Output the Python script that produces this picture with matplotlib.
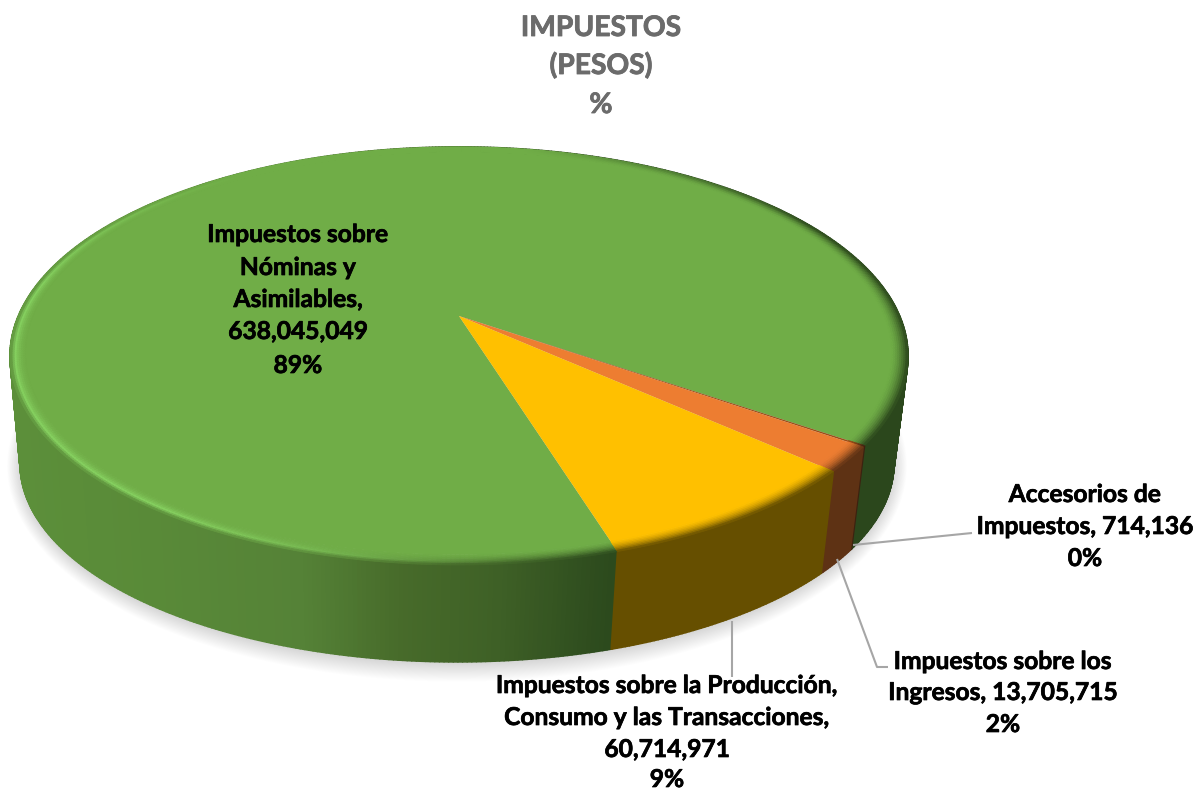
import numpy as np
import matplotlib
matplotlib.use('Agg')
import matplotlib.pyplot as plt
import matplotlib.patheffects as pe
from matplotlib.collections import PolyCollection
from matplotlib.colors import to_rgb

plt.rcParams['font.family'] = ['Lato', 'DejaVu Sans']

# slices, clockwise from the green / yellow edge
names = ['Nominas', 'Accesorios', 'Ingresos', 'Produccion']
values = [638045049, 714136, 13705715, 60714971]
percents = ['89%', '0%', '2%', '9%']
face_colors = ['#70ad47', '#9c4f18', '#ed7d31', '#ffc000']
side_colors = [None, '#3c2210', '#5e3214', '#664f00']

title_lines = ['IMPUESTOS', '(PESOS)', '%']
label_lines = [
    ['Impuestos sobre', 'Nóminas y', 'Asimilables,', f'{values[0]:,}', percents[0]],
    ['Accesorios de', f'Impuestos, {values[1]:,}', percents[1]],
    ['Impuestos sobre los', f'Ingresos, {values[2]:,}', percents[2]],
    ['Impuestos sobre la Producción,', 'Consumo y las Transacciones,', f'{values[3]:,}', percents[3]],
]

# perspective of the disc, in pixels
CX, CY, A, B, K = 459, 316, 440.7, 201.4, -0.191
START = 72.9
R0 = 0.965


def project(theta, r=1.0):
    t = np.radians(theta)
    u, v = r * np.cos(t), r * np.sin(t)
    w = 1 + K * v
    return CX + A * u / w, CY + B * v / w


def bottom(x, y):
    return 457 + (x - 459) * 0.973, 464 + (y - 356) * 0.947


def mix(a, b, t):
    return tuple(a[i] + (b[i] - a[i]) * t for i in range(3))


def green_side(x):
    xs = [15, 150, 300, 400, 500, 610, 900]
    cs = np.array([to_rgb(c) for c in ['#5c8f3a', '#598a38', '#558237', '#476b2a',
                                       '#3e6026', '#2c4a1d', '#2b471c']])
    return tuple(np.interp(x, xs, cs[:, i]) for i in range(3))


def rim_color(theta, t, face, side):
    th = theta % 360
    hl = np.interp(th, [85, 125, 190, 235], [0, 1, 1, 0])
    dark = np.interp(th, [0, 90, 130, 280, 330, 360], [1, 1, 0, 0, 1, 1])
    light = to_rgb('#86d160')
    c = mix(face, side, dark * t ** 1.6)
    if hl > 0:
        if t < 0.7:
            peak = mix(face, light, (t / 0.7) ** 2)
        else:
            peak = mix(light, side, (t - 0.7) / 0.3)
        c = mix(c, peak, hl)
    return c


fig = plt.figure(figsize=(11.98, 7.91), dpi=100)
ax = fig.add_axes([0, 0, 1, 1])
ax.set_xlim(0, 1198)
ax.set_ylim(791, 0)
ax.axis('off')

# soft shadow under the disc
ring = np.arange(0, 360, 1.0)
px, py = bottom(*project(ring))
for s, sy in zip(np.linspace(1.03, 1.0, 20), np.linspace(1.09, 1.0, 20)):
    ax.fill(457 + (px - 457) * s, 466 + (py - 464) * sy, color='k', alpha=0.007, lw=0)

edges = START + np.cumsum([0] + values) / sum(values) * 360
step = 0.5

side_polys, side_cols, top_polys, top_cols, rim_polys, rim_cols = [], [], [], [], [], []
for i in range(len(values)):
    th = np.append(np.arange(edges[i], edges[i + 1], step), edges[i + 1])
    face = to_rgb(face_colors[i])
    for a, b in zip(th[:-1], th[1:]):
        x1, y1 = project(a)
        x2, y2 = project(b)
        x3, y3 = bottom(x2, y2)
        x4, y4 = bottom(x1, y1)
        side = to_rgb(side_colors[i]) if side_colors[i] else green_side((x1 + x2) / 2)
        side_polys.append([(x1, y1), (x2, y2), (x3, y3), (x4, y4)])
        side_cols.append(side)
        for k in range(8):
            r1 = R0 + (1 - R0) * k / 8
            r2 = R0 + (1 - R0) * (k + 1) / 8
            rim_polys.append([project(a, r1), project(b, r1), project(b, r2), project(a, r2)])
            rim_cols.append(rim_color((a + b) / 2, (k + 0.5) / 8, face, side))
    # flat top of the slice
    xs, ys = project(th, R0 + 0.001)
    top_polys.append([(CX, CY)] + list(zip(xs, ys)))
    top_cols.append(face)

ax.add_collection(PolyCollection(side_polys, facecolors=side_cols, edgecolors=side_cols, linewidths=1.2))
ax.add_collection(PolyCollection(top_polys, facecolors=top_cols, edgecolors='none'))
ax.add_collection(PolyCollection(rim_polys, facecolors=rim_cols, edgecolors=rim_cols, linewidths=0.6))

# leader lines
leader = dict(color='#a6a6a6', lw=1.5, solid_capstyle='butt')
ax.plot([853, 972], [545, 533], **leader)
ax.plot([837, 877, 888], [559, 667, 667], **leader)
ax.plot([732, 732], [621, 677], **leader)

for line, y in zip(title_lines, [36, 74, 113]):
    ax.text(601, y, line, ha='center', va='baseline', fontsize=20.3, fontweight='bold', color='#6b6b6b',
            path_effects=[pe.withStroke(linewidth=0.6, foreground='#6b6b6b')])

label_pos = [
    (298, [242, 275, 307, 339, 373]),
    (1085, [502, 534, 566]),
    (1003, [669, 700, 732]),
    (667, [693, 725, 757, 787]),
]
for lines, (x, ys) in zip(label_lines, label_pos):
    for line, y in zip(lines, ys):
        ax.text(x, y, line, ha='center', va='baseline', fontsize=17.7, fontweight='bold', color='black',
                path_effects=[pe.withStroke(linewidth=0.5, foreground='black')])

fig.savefig('out.png', dpi=100)
